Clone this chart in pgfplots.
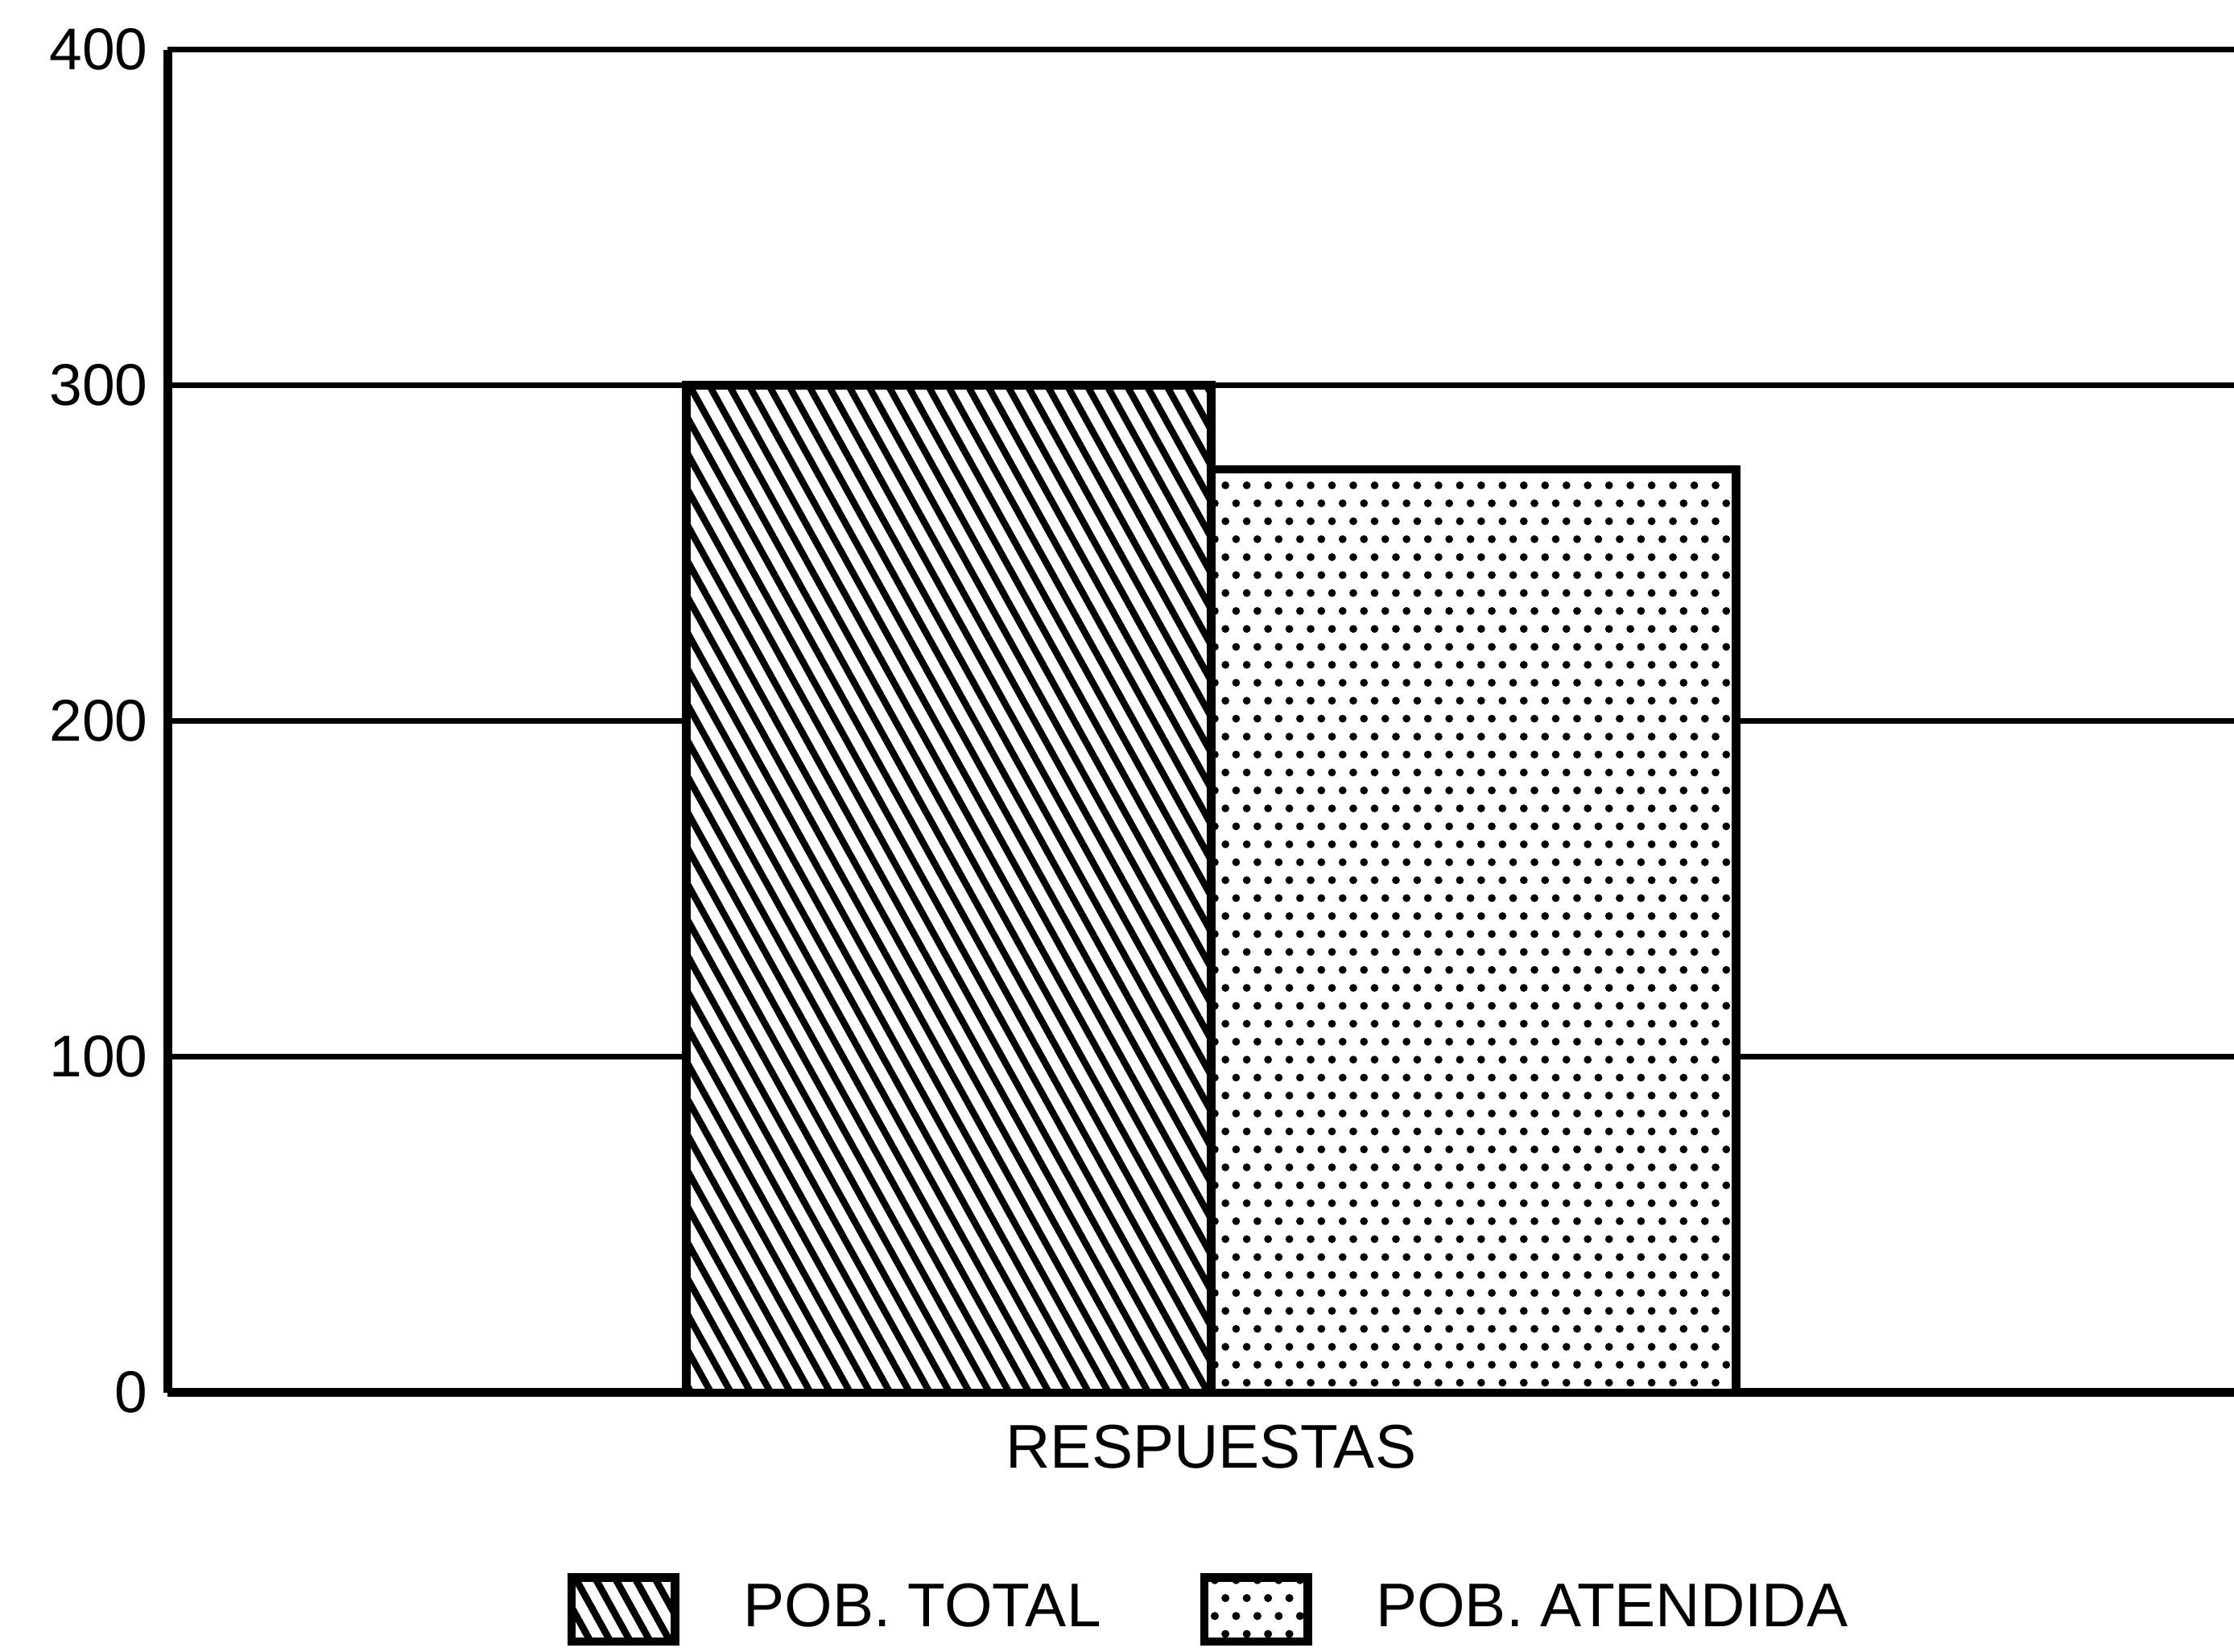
\documentclass[border=0pt]{standalone}
\usepackage{fontspec}
\setmainfont{Liberation Sans}
\usepackage{pgfplots}
\pgfplotsset{compat=1.18}
\usetikzlibrary{patterns,patterns.meta}
\pgfdeclarepatternformonly{mydots}{\pgfqpoint{-1pt}{-1pt}}{\pgfqpoint{2.8pt}{5.4pt}}{\pgfqpoint{3.8pt}{6.4pt}}{%
  \pgfpathcircle{\pgfqpoint{0pt}{0pt}}{0.7pt}%
  \pgfpathcircle{\pgfqpoint{1.9pt}{3.2pt}}{0.7pt}%
  \pgfusepath{fill}%
}
\begin{document}
\begin{tikzpicture}
\begin{axis}[
  scale only axis,
  width=12.95cm, height=8.416cm,
  xmin=0, xmax=1, ymin=0, ymax=400,
  ytick={0,100,200,300,400},
  xtick={0.505}, xticklabels={RESPUESTAS},
  major tick length=0pt,
  axis x line*=bottom, axis y line*=left,
  axis line style={line width=1.6pt,-},
  ymajorgrids,
  major grid style={black,line width=1pt},
  /pgf/number format/assume math mode=true,
  yticklabel style={font=\fontsize{10.5}{12}\selectfont},
  xticklabel style={font=\fontsize{11}{13}\selectfont, yshift=-0.08cm},
  legend columns=2,
  legend style={draw=none, at={(0.506,0)}, anchor=north, yshift=-1.05cm,
    font=\fontsize{11}{13}\selectfont,
    /tikz/every even column/.append style={column sep=0.55cm}},
]
\addplot[ybar, bar width=0.254, bar shift=0pt, draw=black, line width=1.5pt, fill=white,
  postaction={pattern={Lines[angle=119,distance=3.1pt,line width=1.2pt]}},
  legend image code/.code={\draw[black,line width=1.5pt,fill=white,postaction={pattern={Lines[angle=119,distance=3.1pt,line width=1.2pt]}}] (0cm,-0.2cm) rectangle (0.65cm,0.2cm); \path (0.98cm,0cm);}
] coordinates {(0.378,300)};
\addlegendentry{POB. TOTAL}
\addplot[ybar, bar width=0.254, bar shift=0pt, draw=black, line width=1.5pt, fill=white,
  postaction={pattern=mydots},
  legend image code/.code={\draw[black,line width=1.5pt,fill=white,postaction={pattern=mydots}] (0cm,-0.2cm) rectangle (0.65cm,0.2cm); \path (0.98cm,0cm);}
] coordinates {(0.632,275)};
\addlegendentry{POB. ATENDIDA}
\end{axis}
\pgfresetboundingbox
\path (-1.05,-1.625) rectangle (12.95,8.727);
\end{tikzpicture}
\end{document}
